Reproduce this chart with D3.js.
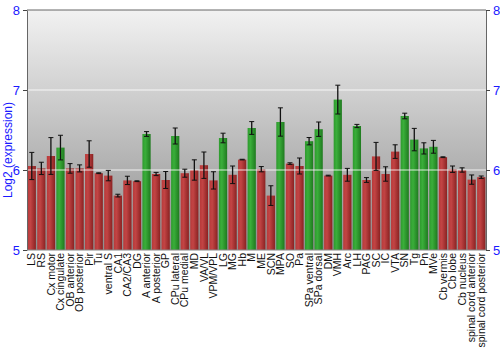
<!DOCTYPE html>
<html><head><meta charset="utf-8">
<script src="https://cdn.jsdelivr.net/npm/d3@7"></script>
<style>body{margin:0;background:#fff}svg{display:block;font-family:"Liberation Sans",Arial,sans-serif}</style>
</head><body>
<script>
const categories = ["LS","RS","Cx motor","Cx cingulate","OB anterior","OB posterior","Pir","Tu","ventral S","CA1","CA2/CA3","DG","A anterior","A posterior","GP","CPu lateral","CPu medial","MD","VA/VL","VPM/VPL","LG","MG","Hb","M","ME","SCN","MPA","SO","Pa","SPa ventral","SPa dorsal","DM","VMH","Arc","LH","PAG","SC","IC","VTA","SN","Tg","Pn","MVe","Cb vermis","Cb lobe","Cb nucleus","spinal cord anterior","spinal cord posterior"];
const values = [6.05,6.02,6.175,6.28,6.02,6.02,6.2,5.96,5.93,5.68,5.87,5.86,6.45,5.95,5.875,6.425,5.96,6.0,6.06,5.87,6.40,5.94,6.13,6.525,6.01,5.68,6.60,6.08,6.05,6.36,6.51,5.93,6.88,5.94,6.55,5.875,6.17,5.95,6.23,6.675,6.38,6.27,6.29,6.16,6.01,6.0,5.88,5.91];
const errors = [0.17,0.077,0.23,0.154,0.06,0.044,0.165,0.005,0.065,0.017,0.052,0.005,0.03,0.02,0.106,0.1,0.05,0.127,0.165,0.108,0.06,0.11,0.004,0.08,0.033,0.123,0.177,0.01,0.1,0.046,0.09,0.005,0.18,0.08,0.02,0.03,0.175,0.09,0.085,0.035,0.14,0.07,0.08,0.005,0.04,0.027,0.058,0.015];
const highlighted = ["Cx cingulate","A anterior","CPu lateral","LG","M","MPA","SPa ventral","SPa dorsal","VMH","LH","SN","Tg","Pn","MVe"];
const yTicks = [5,6,7,8];
const yTitle = "Log2 (expression)";

const W=500,H=350, L=27, R=486, T=10, B=250;
const svg=d3.select("body").append("svg").attr("width",W).attr("height",H);
const defs=svg.append("defs");
const bg=defs.append("linearGradient").attr("id","bg").attr("x1",0).attr("y1",0).attr("x2",0).attr("y2",1);
bg.append("stop").attr("offset","0%").attr("stop-color","#f2f2f2");
bg.append("stop").attr("offset","100%").attr("stop-color","#8e8e8e");
function hg(id,c1,c2,c3){const g=defs.append("linearGradient").attr("id",id).attr("x1",0).attr("y1",0).attr("x2",1).attr("y2",0);
 g.append("stop").attr("offset","0%").attr("stop-color",c1);
 g.append("stop").attr("offset","35%").attr("stop-color",c2);
 g.append("stop").attr("offset","100%").attr("stop-color",c3);}
hg("red","#b83a3a","#c24444","#8a2222");
hg("green","#2e9a2e","#3aae3a","#1f7a1f");

const x=d3.scaleBand().domain(categories).range([L,R]).paddingInner(0.14).paddingOuter(0.07);
const y=d3.scaleLinear().domain([5,8]).range([B,T]);

svg.append("rect").attr("x",L).attr("y",T).attr("width",R-L).attr("height",B-T).attr("fill","url(#bg)");

const data=categories.map((c,i)=>({c,v:values[i],e:errors[i]}));
svg.append("g").selectAll("rect").data(data).join("rect")
 .attr("x",d=>x(d.c)).attr("width",x.bandwidth())
 .attr("y",d=>y(d.v)).attr("height",d=>y(5)-y(d.v))
 .attr("fill",d=>highlighted.includes(d.c)?"url(#green)":"url(#red)");

svg.append("g").selectAll("line").data([6,7]).join("line")
 .attr("x1",L).attr("x2",R).attr("y1",d=>y(d)).attr("y2",d=>y(d))
 .attr("stroke","#fff").attr("stroke-opacity",0.55).attr("stroke-width",1.5);

const eb=svg.append("g").attr("stroke","#111").attr("stroke-width",1);
data.forEach(d=>{const cx=x(d.c)+x.bandwidth()/2;
 eb.append("line").attr("x1",cx).attr("x2",cx).attr("y1",y(d.v+d.e)).attr("y2",y(d.v-d.e)).attr("stroke-width",1.3);
 [d.v+d.e,d.v-d.e].forEach(v=>eb.append("line").attr("x1",cx-2.5).attr("x2",cx+2.5).attr("y1",y(v)).attr("y2",y(v)));
});

const fmt=d3.format("d");
const ly=svg.append("g").attr("transform",`translate(${L},0)`).call(d3.axisLeft(y).tickValues(yTicks).tickFormat(fmt).tickSize(4).tickSizeOuter(0).tickPadding(3));
const ry=svg.append("g").attr("transform",`translate(${R},0)`).call(d3.axisRight(y).tickValues(yTicks).tickFormat(fmt).tickSize(4).tickSizeOuter(0).tickPadding(3));
[ly,ry].forEach(a=>{a.select(".domain").attr("stroke","#666");a.selectAll(".tick line").attr("stroke","#444");
 a.selectAll("text").attr("fill","#1a1aff").attr("font-size",13);});
svg.append("line").attr("x1",L).attr("x2",R).attr("y1",T).attr("y2",T).attr("stroke","#666");
svg.append("line").attr("x1",L).attr("x2",R).attr("y1",B).attr("y2",B).attr("stroke","#888");

svg.append("text").attr("transform",`translate(12,150) rotate(-90)`).attr("text-anchor","middle")
 .attr("fill","#1a1aff").attr("font-size",12).text(yTitle);

const xa=svg.append("g").attr("transform",`translate(0,${B})`).call(d3.axisBottom(x).tickSize(0).tickPadding(0));
xa.select(".domain").remove();
xa.selectAll("text").attr("transform","rotate(-90)").attr("text-anchor","end").attr("dy","0.35em").attr("dx","-3")
 .attr("x",0).attr("y",0).attr("fill","#111").attr("font-size",10.5);
</script>
</body></html>
